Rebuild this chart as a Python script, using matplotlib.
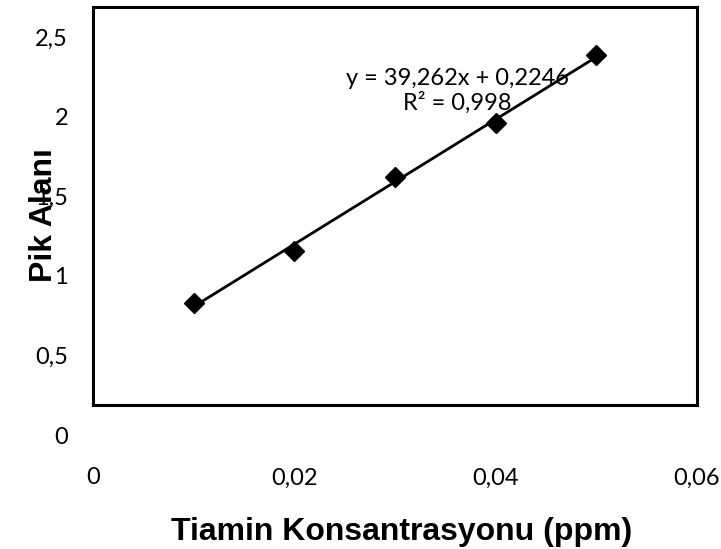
import numpy as np
import matplotlib
matplotlib.use("Agg")
import matplotlib.pyplot as plt
from matplotlib.transforms import ScaledTranslation

# concentration (ppm) and peak area
konsantrasyon = [0.01, 0.02, 0.03, 0.04, 0.05]
pik_alani = [0.64, 0.97, 1.43, 1.77, 2.20]

x_ticks = [0, 0.02, 0.04, 0.06]
x_labels = ["0", "0,02", "0,04", "0,06"]
y_ticks = [0, 0.5, 1, 1.5, 2, 2.5]
y_labels = ["0", "0,5", "1", "1,5", "2", "2,5"]

eq_text = "y = 39,262x + 0,2246\nR² = 0,998"

fig = plt.figure(figsize=(7.21, 5.49), dpi=100)
ax = fig.add_axes([93/721, 1-405/549, 604/721, 398/549])

# data points
ax.plot(konsantrasyon, pik_alani, linestyle='none', marker='D',
        markersize=10.5, color='black', zorder=3)

# linear trendline
coef = np.polyfit(konsantrasyon, pik_alani, 1)
xs = np.array([konsantrasyon[0], konsantrasyon[-1]])
ax.plot(xs, np.polyval(coef, xs), color='black', linewidth=2, zorder=2)

ax.set_xlim(0, 0.06)
ax.set_ylim(0, 2.5)
ax.set_xticks(x_ticks)
ax.set_xticklabels(x_labels, fontfamily='Lato', fontsize=17)
ax.set_yticks(y_ticks)
ax.set_yticklabels(y_labels, fontfamily='Lato', fontsize=17)
ax.tick_params(axis='x', length=0, pad=45)
ax.tick_params(axis='y', length=0, pad=18)

for s in ax.spines.values():
    s.set_linewidth(2.2)

# equation of the trendline
ax.text(0.603, 0.79, eq_text, transform=ax.transAxes, ha='center',
        va='center', multialignment='center', fontfamily='Lato',
        fontsize=17, linespacing=1.15)

# axis titles
fig.text(402/721, 1-540/549, "Tiamin Konsantrasyonu (ppm)", ha='center',
         va='baseline', fontfamily='Liberation Sans', fontweight='bold',
         fontsize=23)
ax.text(-0.081, 0.477, "Pik Alanı", transform=ax.transAxes, rotation=90,
        ha='center', va='center', fontfamily='Liberation Sans',
        fontweight='bold', fontsize=23)

# y labels sit lower than their gridline in the original
shift = ScaledTranslation(0, -0.30, fig.dpi_scale_trans)
for lbl in ax.get_yticklabels():
    lbl.set_transform(lbl.get_transform() + shift)

fig.savefig("out.png", dpi=100)
